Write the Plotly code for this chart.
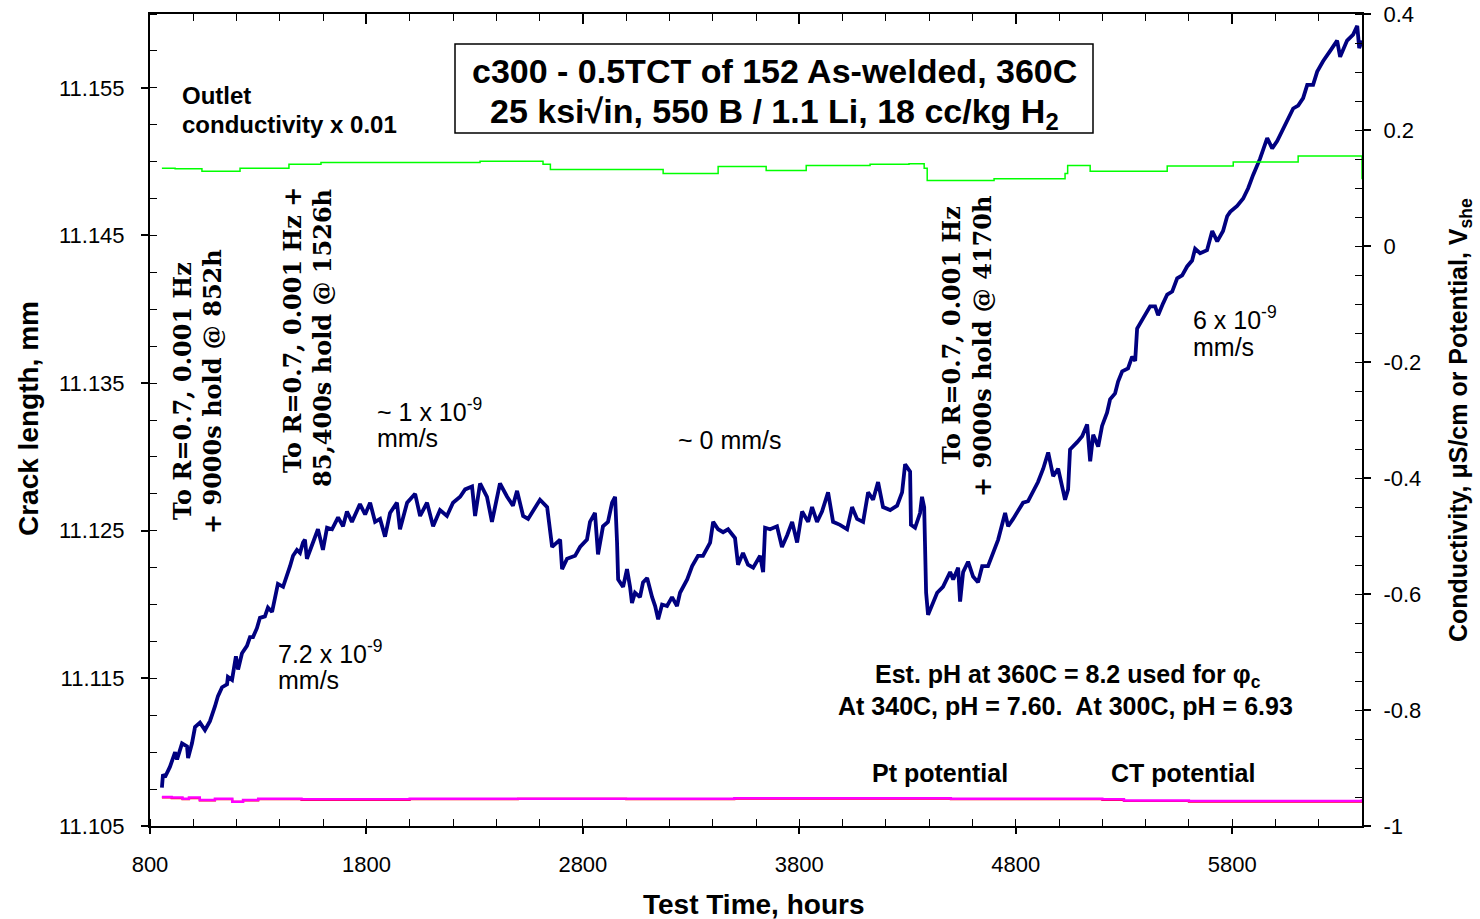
import plotly.graph_objects as go

# ---------------- data ----------------
crack_hours = [855, 860, 869, 892, 916, 925, 948, 971, 976, 994, 1008, 1031, 1054, 1077, 1100, 1114, 1133, 1156, 1160, 1179,
               1197, 1207, 1225, 1248, 1262, 1276, 1294, 1308, 1331, 1345, 1364, 1378, 1391, 1415, 1433, 1447, 1461, 1479, 1493, 1507,
               1516, 1525, 1576, 1599, 1618, 1641, 1669, 1692, 1710, 1733, 1770, 1794, 1817, 1840, 1863, 1886, 1909, 1941, 1955, 1988,
               2025, 2048, 2080, 2108, 2140, 2172, 2200, 2233, 2256, 2288, 2302, 2325, 2357, 2380, 2417, 2450, 2477, 2496, 2524, 2547,
               2602, 2635, 2658, 2695, 2704, 2727, 2764, 2787, 2819, 2833, 2856, 2870, 2893, 2916, 2935, 2949, 2958, 2963, 2986, 3004,
               3018, 3027, 3041, 3064, 3078, 3097, 3120, 3134, 3148, 3166, 3189, 3212, 3235, 3249, 3282, 3305, 3332, 3355, 3388, 3402,
               3425, 3448, 3471, 3503, 3517, 3540, 3563, 3587, 3619, 3633, 3642, 3665, 3697, 3720, 3744, 3767, 3790, 3813, 3841, 3859,
               3882, 3905, 3933, 3956, 3988, 4021, 4044, 4067, 4095, 4118, 4141, 4164, 4187, 4220, 4252, 4275, 4289, 4312, 4316, 4335,
               4358, 4367, 4377, 4386, 4395, 4414, 4437, 4464, 4497, 4511, 4534, 4543, 4557, 4580, 4603, 4626, 4645, 4672, 4696, 4719,
               4751, 4765, 4788, 4811, 4834, 4857, 4880, 4903, 4927, 4950, 4973, 4996, 5019, 5028, 5042, 5051, 5084, 5107, 5130, 5144,
               5158, 5181, 5199, 5222, 5236, 5259, 5273, 5292, 5319, 5338, 5352, 5361, 5389, 5421, 5444, 5458, 5481, 5500, 5523, 5546,
               5569, 5592, 5615, 5629, 5652, 5684, 5708, 5731, 5758, 5777, 5791, 5823, 5851, 5874, 5897, 5929, 5962, 5985, 6008, 6036,
               6054, 6082, 6105, 6128, 6147, 6174, 6193, 6220, 6253, 6285, 6299, 6331, 6359, 6378, 6387, 6400]
crack_mm = [11.1076, 11.1085, 11.1083, 11.1090, 11.1100, 11.1095, 11.1106, 11.1104, 11.1096, 11.1106, 11.1117, 11.1120, 11.1115, 11.1121, 11.1131, 11.1138, 11.1144, 11.1146, 11.1151, 11.1149,
            11.1165, 11.1156, 11.1167, 11.1172, 11.1178, 11.1178, 11.1184, 11.1191, 11.1192, 11.1198, 11.1195, 11.1205, 11.1214, 11.1212, 11.1219, 11.1226, 11.1233, 11.1237, 11.1235, 11.1242,
            11.1244, 11.1231, 11.1251, 11.1237, 11.1252, 11.1251, 11.1259, 11.1253, 11.1263, 11.1256, 11.1268, 11.1261, 11.1269, 11.1256, 11.1258, 11.1246, 11.1262, 11.1269, 11.1251, 11.1269,
            11.1275, 11.1260, 11.1269, 11.1253, 11.1264, 11.1260, 11.1269, 11.1273, 11.1278, 11.1280, 11.1260, 11.1282, 11.1273, 11.1256, 11.1282, 11.1273, 11.1267, 11.1277, 11.1260, 11.1258,
            11.1271, 11.1266, 11.1239, 11.1244, 11.1224, 11.1231, 11.1233, 11.1239, 11.1244, 11.1256, 11.1262, 11.1234, 11.1253, 11.1256, 11.1269, 11.1273, 11.1242, 11.1217, 11.1212, 11.1224,
            11.1212, 11.1201, 11.1208, 11.1205, 11.1215, 11.1218, 11.1205, 11.1199, 11.1190, 11.1200, 11.1199, 11.1205, 11.1199, 11.1208, 11.1217, 11.1226, 11.1233, 11.1233, 11.1242, 11.1256,
            11.1251, 11.1249, 11.1251, 11.1245, 11.1227, 11.1235, 11.1227, 11.1225, 11.1233, 11.1222, 11.1252, 11.1251, 11.1253, 11.1239, 11.1247, 11.1256, 11.1242, 11.1263, 11.1256, 11.1266,
            11.1256, 11.1263, 11.1276, 11.1256, 11.1254, 11.1251, 11.1266, 11.1258, 11.1256, 11.1276, 11.1271, 11.1283, 11.1266, 11.1264, 11.1267, 11.1276, 11.1295, 11.1290, 11.1254, 11.1252,
            11.1262, 11.1273, 11.1266, 11.1208, 11.1193, 11.1200, 11.1208, 11.1212, 11.1222, 11.1217, 11.1225, 11.1202, 11.1222, 11.1229, 11.1219, 11.1215, 11.1226, 11.1226, 11.1235, 11.1244,
            11.1262, 11.1253, 11.1258, 11.1263, 11.1269, 11.1270, 11.1276, 11.1283, 11.1292, 11.1303, 11.1287, 11.1292, 11.1277, 11.1271, 11.1278, 11.1305, 11.1310, 11.1314, 11.1322, 11.1297,
            11.1315, 11.1307, 11.1321, 11.1330, 11.1339, 11.1343, 11.1351, 11.1358, 11.1360, 11.1368, 11.1365, 11.1387, 11.1394, 11.1402, 11.1402, 11.1396, 11.1404, 11.1410, 11.1412, 11.1421,
            11.1423, 11.1429, 11.1433, 11.1441, 11.1438, 11.1440, 11.1453, 11.1446, 11.1453, 11.1463, 11.1466, 11.1470, 11.1475, 11.1482, 11.1491, 11.1502, 11.1516, 11.1509, 11.1514, 11.1522,
            11.1527, 11.1536, 11.1538, 11.1543, 11.1552, 11.1552, 11.1561, 11.1568, 11.1575, 11.1582, 11.1571, 11.1582, 11.1586, 11.1592, 11.1577, 11.1582]

cond_hours = [855, 916, 1040, 1216, 1442, 1590, 1807, 2325, 2616, 2650, 2912, 3171, 3425, 3647, 3832, 4127, 4307, 4377,
              4391, 4700, 5028, 5040, 5135, 5144, 5500, 5805, 6105, 6395, 6400]
cond_x001 = [0.134, 0.133, 0.129, 0.134, 0.141, 0.144, 0.144, 0.146, 0.141, 0.132, 0.132, 0.125, 0.137, 0.130, 0.139, 0.141, 0.142, 0.134,
             0.113, 0.116, 0.125, 0.139, 0.139, 0.129, 0.138, 0.145, 0.155, 0.155, 0.115]

pot_hours = [855, 900, 950, 980, 1030, 1100, 1180, 1230, 1300, 1500, 2000, 2500, 3000, 3500, 4000, 4500, 5000, 5200, 5300, 5600, 6000, 6400]
pt_potential = [-0.950, -0.951, -0.953, -0.951, -0.955, -0.953, -0.958, -0.955, -0.953, -0.954, -0.953, -0.953, -0.953, -0.952, -0.952, -0.953,
                -0.953, -0.954, -0.956, -0.957, -0.957, -0.954]
ct_potential = [-0.951, -0.952, -0.954, -0.952, -0.956, -0.954, -0.958, -0.956, -0.954, -0.955, -0.954, -0.953, -0.954, -0.953, -0.953, -0.954,
                 -0.954, -0.955, -0.957, -0.958, -0.958, -0.955]

x_ticks = [800, 1800, 2800, 3800, 4800, 5800]
y_ticks = [11.105, 11.115, 11.125, 11.135, 11.145, 11.155]
y2_ticks = [0.4, 0.2, 0, -0.2, -0.4, -0.6, -0.8, -1]
y2_labels = ["0.4", "0.2", "0", "-0.2", "-0.4", "-0.6", "-0.8", "-1"]

# ---------------- figure ----------------
SANS = "Liberation Sans, Arial, sans-serif"
SERIF = "DejaVu Serif, serif"
L, R, T, B = 150, 1362, 14, 826


def at(px, py):
    return dict(x=(px - L) / (R - L), y=(B - py) / (B - T), xref="paper", yref="paper")


fig = go.Figure()
fig.add_trace(go.Scatter(x=cond_hours, y=cond_x001, yaxis="y2", mode="lines", line=dict(color="#00ff00", width=1.5, shape="hv"),
                         hoverinfo="skip", showlegend=False))
fig.add_trace(go.Scatter(x=pot_hours, y=ct_potential, yaxis="y2", mode="lines", line=dict(color="#ff0000", width=2, shape="hv"),
                         showlegend=False))
fig.add_trace(go.Scatter(x=pot_hours, y=pt_potential, yaxis="y2", mode="lines", line=dict(color="#ff00ff", width=2.5, shape="hv"),
                         showlegend=False))
fig.add_trace(go.Scatter(x=crack_hours, y=crack_mm, mode="lines", line=dict(color="#000080", width=3.8), showlegend=False))
# invisible trace to draw the top axis ticks
fig.add_trace(go.Scatter(x=[x_ticks[0]], y=[y_ticks[0]], xaxis="x2", mode="markers", marker=dict(opacity=0), showlegend=False,
                         hoverinfo="skip"))

tickfont = dict(family=SANS, size=22, color="black")
fig.update_layout(
    width=1480, height=919,
    margin=dict(l=L, r=1480 - R, t=T, b=919 - B, autoexpand=False),
    paper_bgcolor="white", plot_bgcolor="white",
    showlegend=False,
    xaxis=dict(range=[800, 6400], tickvals=x_ticks, ticks="outside", ticklen=6, tickwidth=1.5, tickcolor="black",
               minor=dict(dtick=200, tick0=800, ticks="inside", ticklen=7, tickcolor="black", tickwidth=1.2),
               showline=True, linecolor="black", linewidth=2, showgrid=False, zeroline=False, automargin=False,
               tickfont=tickfont, ticklabelstandoff=12),
    xaxis2=dict(range=[800, 6400], overlaying="x", side="top", anchor="y", tickvals=x_ticks, ticks="inside", ticklen=10,
                tickcolor="black", tickwidth=1.5, showticklabels=False, automargin=False,
                minor=dict(dtick=200, tick0=800, ticks="inside", ticklen=7, tickcolor="black", tickwidth=1.2),
                showline=True, linecolor="black", linewidth=2, showgrid=False, zeroline=False),
    yaxis=dict(range=[11.105, 11.16], tickvals=y_ticks, tickformat=".3f", ticks="outside", ticklen=7, tickwidth=1.5,
               tickcolor="black", automargin=False,
               minor=dict(dtick=0.0025, tick0=11.105, ticks="inside", ticklen=7, tickcolor="black", tickwidth=1.2),
               showline=True, linecolor="black", linewidth=2, showgrid=False, zeroline=False,
               tickfont=tickfont, ticklabelstandoff=12),
    yaxis2=dict(range=[-1, 0.4], overlaying="y", side="right", tickvals=y2_ticks, ticktext=y2_labels, ticks="outside",
                ticklen=7, tickwidth=1.5, tickcolor="black", automargin=False,
                minor=dict(dtick=0.05, tick0=0, ticks="inside", ticklen=7, tickcolor="black", tickwidth=1.2),
                showline=True, linecolor="black", linewidth=2, showgrid=False, zeroline=False,
                tickfont=tickfont, ticklabelstandoff=8),
)

ann = []


def text(t, px, py, size, bold=False, family=SANS, angle=0, xanchor="center", yanchor="middle"):
    s = "<b>" + t + "</b>" if bold else t
    d = at(px, py)
    d.update(text=s, showarrow=False, font=dict(family=family, size=size, color="black"), textangle=angle,
             xanchor=xanchor, yanchor=yanchor)
    ann.append(d)


# title box
fig.add_shape(type="rect", xref="paper", yref="paper",
              x0=(455 - L) / (R - L), x1=(1093 - L) / (R - L), y0=(B - 133) / (B - T), y1=(B - 44) / (B - T),
              line=dict(color="black", width=1.5), fillcolor="white", layer="above")
text("c300 - 0.5TCT of 152 As-welded, 360C", 774, 71, 34, bold=True)
text("25 ksi√in, 550 B / 1.1 Li, 18 cc/kg H<sub>2</sub>", 774, 114, 34, bold=True)

text("Outlet", 180, 95, 24, bold=True, xanchor="left")
text("conductivity x 0.01", 180, 124, 24, bold=True, xanchor="left")

# vertical serif notes
text("To R=0.7, 0.001 Hz", 182, 391, 24, bold=True, family=SERIF, angle=-90)
text("+ 9000s hold @ 852h", 212, 392, 24, bold=True, family=SERIF, angle=-90)
text("To R=0.7, 0.001 Hz +", 292, 330, 24, bold=True, family=SERIF, angle=-90)
text("85,400s hold @ 1526h", 323, 338, 24, bold=True, family=SERIF, angle=-90)
text("To R=0.7, 0.001 Hz", 951, 335, 24, bold=True, family=SERIF, angle=-90)
text("+ 9000s hold @ 4170h", 982, 347, 24, bold=True, family=SERIF, angle=-90)

# rates
text("~ 1 x 10<sup>-9</sup>", 375, 410, 25, xanchor="left")
text("mm/s", 375, 438, 25, xanchor="left")
text("~ 0 mm/s", 676, 440, 25, xanchor="left")
text("7.2 x 10<sup>-9</sup>", 276, 652, 25, xanchor="left")
text("mm/s", 276, 680, 25, xanchor="left")
text("6 x 10<sup>-9</sup>", 1191, 318, 25, xanchor="left")
text("mm/s", 1191, 347, 25, xanchor="left")

text("Est. pH at 360C = 8.2 used for φ<sub>c</sub>", 1068, 676, 25, bold=True)
text("At 340C, pH = 7.60.  At 300C, pH = 6.93", 1065, 706, 25, bold=True)
text("Pt potential", 940, 773, 25, bold=True)
text("CT potential", 1183, 773, 25, bold=True)

# axis titles
text("Crack length, mm", 28, 419, 28, bold=True, angle=-90)
text("Test Time, hours", 753, 904, 28, bold=True)
text("Conductivity, μS/cm or Potential, V<sub>she</sub>", 1460, 420, 25, bold=True, angle=-90)

fig.update_layout(annotations=ann)
fig.write_html("out.html")
